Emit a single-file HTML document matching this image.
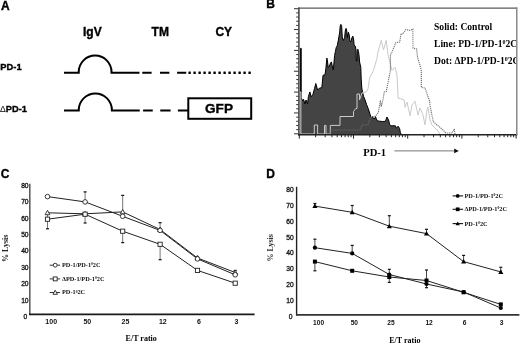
<!DOCTYPE html>
<html><head><meta charset="utf-8"><title>Figure</title>
<style>
html,body{margin:0;padding:0;background:#fff;}
body{width:520px;height:344px;overflow:hidden;font-family:"Liberation Sans",sans-serif;}
svg{display:block;will-change:transform;}
</style></head>
<body>
<svg width="520" height="344" viewBox="0 0 520 344">
<defs><clipPath id="clipB"><rect x="400" y="30" width="116.2" height="40"/></clipPath></defs>
<rect width="520" height="344" fill="#fff"/>
<text x="1.0" y="9.6" font-family='"Liberation Sans", sans-serif' font-size="12" font-weight="bold" text-anchor="start" fill="#000"  stroke="#000" stroke-width="0.35">A</text>
<text x="83.0" y="35.6" font-family='"Liberation Sans", sans-serif' font-size="12" font-weight="bold" text-anchor="start" fill="#000"  stroke="#000" stroke-width="0.35">IgV</text>
<text x="151.6" y="36.2" font-family='"Liberation Sans", sans-serif' font-size="12" font-weight="bold" text-anchor="start" fill="#000"  stroke="#000" stroke-width="0.35">TM</text>
<text x="215.4" y="36.2" font-family='"Liberation Sans", sans-serif' font-size="12" font-weight="bold" text-anchor="start" fill="#000"  stroke="#000" stroke-width="0.35">CY</text>
<text x="0.3" y="70.2" font-family='"Liberation Sans", sans-serif' font-size="9.6" font-weight="bold" text-anchor="start" fill="#000" textLength="21.3" lengthAdjust="spacingAndGlyphs" stroke="#000" stroke-width="0.35">PD-1</text>
<text x="0" y="111.9" font-family='"Liberation Sans", sans-serif' font-size="9.7" textLength="27" lengthAdjust="spacingAndGlyphs"><tspan font-weight="normal" font-size="9">&#916;</tspan><tspan font-weight="bold" stroke="#000" stroke-width="0.35">PD-1</tspan></text>
<path d="M64,72.75 H78.75 V71.97 A16.375,16.375 0 0 1 111.5,71.97 V72.75 H139.5" fill="none" stroke="#000" stroke-width="2"/>
<line x1="142.25" y1="72.75" x2="151.6" y2="72.75" stroke="#000" stroke-width="2"/>
<line x1="160" y1="72.75" x2="169.4" y2="72.75" stroke="#000" stroke-width="2"/>
<line x1="177.1" y1="72.75" x2="186.25" y2="72.75" stroke="#000" stroke-width="2"/>
<rect x="188.40" y="71.55" width="2.4" height="2.4" rx="0.5" fill="#000"/>
<rect x="193.40" y="71.55" width="2.4" height="2.4" rx="0.5" fill="#000"/>
<rect x="198.40" y="71.55" width="2.4" height="2.4" rx="0.5" fill="#000"/>
<rect x="203.40" y="71.55" width="2.4" height="2.4" rx="0.5" fill="#000"/>
<rect x="208.40" y="71.55" width="2.4" height="2.4" rx="0.5" fill="#000"/>
<rect x="213.40" y="71.55" width="2.4" height="2.4" rx="0.5" fill="#000"/>
<rect x="218.40" y="71.55" width="2.4" height="2.4" rx="0.5" fill="#000"/>
<rect x="223.40" y="71.55" width="2.4" height="2.4" rx="0.5" fill="#000"/>
<rect x="228.40" y="71.55" width="2.4" height="2.4" rx="0.5" fill="#000"/>
<rect x="233.40" y="71.55" width="2.4" height="2.4" rx="0.5" fill="#000"/>
<rect x="238.40" y="71.55" width="2.4" height="2.4" rx="0.5" fill="#000"/>
<rect x="243.40" y="71.55" width="2.4" height="2.4" rx="0.5" fill="#000"/>
<rect x="248.40" y="71.55" width="2.4" height="2.4" rx="0.5" fill="#000"/>
<path d="M64,110.5 H78.75 V110.08 A16.575,16.575 0 0 1 111.9,110.08 V110.5 H139.75" fill="none" stroke="#000" stroke-width="2"/>
<line x1="143.1" y1="110.5" x2="152.75" y2="110.5" stroke="#000" stroke-width="2"/>
<line x1="160.25" y1="110.5" x2="170.6" y2="110.5" stroke="#000" stroke-width="2"/>
<line x1="177.9" y1="110.5" x2="188" y2="110.5" stroke="#000" stroke-width="2"/>
<rect x="188.3" y="98.3" width="62.9" height="20.5" fill="none" stroke="#000" stroke-width="2"/>
<text x="219.0" y="113.4" font-family='"Liberation Sans", sans-serif' font-size="13.6" font-weight="bold" text-anchor="middle" fill="#000"  stroke="#000" stroke-width="0.35">GFP</text>
<text x="266.2" y="8.4" font-family='"Liberation Sans", sans-serif' font-size="12" font-weight="bold" text-anchor="start" fill="#000"  stroke="#000" stroke-width="0.35">B</text>
<polygon points="300.6,134.5 300.6,48.3 301.2,48.3 301.2,97.7 302.6,100.8 303.5,99.2 304.9,103.8 306.1,100 307.6,103.8 308.4,96.5 309.9,91.9 311.1,96.9 313,94.2 314.5,88.5 315.8,83.5 317.6,90 319.5,88.1 321.8,87.7 322.6,80 323,75.3 325,74.8 325.9,68.3 326.9,58.1 327.6,62 328.2,67.5 329.4,66 330.6,63 331.5,61.9 332.2,66 333.3,70 334.2,60 334.6,55.4 335.4,51.5 336.2,47.7 337.3,45.4 338.4,40 338.9,36.5 339.6,33 340.2,26 340.9,24.4 341.7,26.5 342.3,38 343.3,40.5 344.6,37.5 345.4,30 346.1,28.4 346.8,31 347.3,37.5 347.9,34 348.4,32.2 349.2,35 350,41.5 351,41.5 352,37.5 352.8,36.1 353.6,39 354.1,45.2 355.4,46.2 356,50 356.3,61 357,61 357.3,50.5 357.8,49.2 358.5,51.5 359.1,56 359.6,62 360.8,67.4 361.2,79 361.8,88 362.5,92 363.5,96.2 365.1,100 366.6,104.6 368.2,108.5 369.7,113.1 370.8,116.8 371.6,117.5 372.4,116.5 373.2,118.5 374.8,118.5 375.5,116.5 376.3,119 377.4,120.8 379.7,121.2 382.4,121.5 385.4,121.4 386.9,117 388.5,119.7 389.6,124.3 390.8,125.8 395.4,125.8 396.5,128.2 398.1,126.2 399.6,128.5 400.4,132.8 401.5,134.5" fill="#444" stroke="#000" stroke-width="1" stroke-linejoin="miter"/>
<polyline points="299.9,134.5 299.9,92 300.9,92 300.9,134 314.3,134 314.3,125 317.6,125 317.6,134 324.5,134 324.5,125.4 326,125.4 326,134 330.3,134 330.3,125.4 340,125.4 340,116.5 353.5,116.5 353.5,111.5 355.8,108.5 357,108.5 357,94 359.5,94 359.5,100 362,93 366,92 368,89 369.6,78 373.5,70.4 376.6,59.7 378,52 381.2,40.4 383.5,50 386.2,40.4 388.1,55 392,70.4 395,67.3 397,75 398.1,98.1 401.2,99 404.2,100 405,107.3 407,102 410,115.8 412,105 415,101.2 418,115 420,108 423,115 425,125 427,110 428,107.3 430,120 432,125 435,128 438,131 440,134.5" fill="none" stroke="#cacaca" stroke-width="1"/>
<polyline points="330,134.5 330,130 360,130 362,125 368,125 370,118 376,116 378.5,112 380.4,100 381.2,106.9 383.1,99.2 384.3,92 386.2,91.5 388,82.7 390.4,70.4 390.4,55 392,52 395.8,42.7 399.7,42 401,33.5 402.8,34 405.8,29.6 410.2,30.5 412.8,29.2 413,48.1 416.6,49 417.4,57 419.7,64.3 421.3,70.4 421.3,87.4 425.1,88.1 427.4,95 429.7,101.2 430,105 432,115.8 433.5,122 437,125 439.7,127 443,130 445.8,133 452,133 454.3,128.9 455,134.5" fill="none" stroke="#6a6a6a" stroke-width="1.1" stroke-dasharray="1.1 0.9"/>
<line x1="298" y1="8.1" x2="517.2" y2="8.1" stroke="#5a5a5a" stroke-width="1.4"/>
<line x1="516.7" y1="7.5" x2="516.7" y2="135" stroke="#8a8a8a" stroke-width="1.2"/>
<line x1="298.9" y1="7.5" x2="298.9" y2="135.5" stroke="#555" stroke-width="1.7"/>
<line x1="298" y1="134.8" x2="517.2" y2="134.8" stroke="#222" stroke-width="1.5"/>
<line x1="294" y1="8.70" x2="298.5" y2="8.70" stroke="#333" stroke-width="1"/>
<line x1="296.2" y1="12.87" x2="298.5" y2="12.87" stroke="#333" stroke-width="1"/>
<line x1="296.2" y1="17.04" x2="298.5" y2="17.04" stroke="#333" stroke-width="1"/>
<line x1="296.2" y1="21.21" x2="298.5" y2="21.21" stroke="#333" stroke-width="1"/>
<line x1="296.2" y1="25.38" x2="298.5" y2="25.38" stroke="#333" stroke-width="1"/>
<line x1="294" y1="29.55" x2="298.5" y2="29.55" stroke="#333" stroke-width="1"/>
<line x1="296.2" y1="33.72" x2="298.5" y2="33.72" stroke="#333" stroke-width="1"/>
<line x1="296.2" y1="37.89" x2="298.5" y2="37.89" stroke="#333" stroke-width="1"/>
<line x1="296.2" y1="42.06" x2="298.5" y2="42.06" stroke="#333" stroke-width="1"/>
<line x1="296.2" y1="46.23" x2="298.5" y2="46.23" stroke="#333" stroke-width="1"/>
<line x1="294" y1="50.40" x2="298.5" y2="50.40" stroke="#333" stroke-width="1"/>
<line x1="296.2" y1="54.57" x2="298.5" y2="54.57" stroke="#333" stroke-width="1"/>
<line x1="296.2" y1="58.74" x2="298.5" y2="58.74" stroke="#333" stroke-width="1"/>
<line x1="296.2" y1="62.91" x2="298.5" y2="62.91" stroke="#333" stroke-width="1"/>
<line x1="296.2" y1="67.08" x2="298.5" y2="67.08" stroke="#333" stroke-width="1"/>
<line x1="294" y1="71.25" x2="298.5" y2="71.25" stroke="#333" stroke-width="1"/>
<line x1="296.2" y1="75.42" x2="298.5" y2="75.42" stroke="#333" stroke-width="1"/>
<line x1="296.2" y1="79.59" x2="298.5" y2="79.59" stroke="#333" stroke-width="1"/>
<line x1="296.2" y1="83.76" x2="298.5" y2="83.76" stroke="#333" stroke-width="1"/>
<line x1="296.2" y1="87.93" x2="298.5" y2="87.93" stroke="#333" stroke-width="1"/>
<line x1="294" y1="92.10" x2="298.5" y2="92.10" stroke="#333" stroke-width="1"/>
<line x1="296.2" y1="96.27" x2="298.5" y2="96.27" stroke="#333" stroke-width="1"/>
<line x1="296.2" y1="100.44" x2="298.5" y2="100.44" stroke="#333" stroke-width="1"/>
<line x1="296.2" y1="104.61" x2="298.5" y2="104.61" stroke="#333" stroke-width="1"/>
<line x1="296.2" y1="108.78" x2="298.5" y2="108.78" stroke="#333" stroke-width="1"/>
<line x1="294" y1="112.95" x2="298.5" y2="112.95" stroke="#333" stroke-width="1"/>
<line x1="296.2" y1="117.12" x2="298.5" y2="117.12" stroke="#333" stroke-width="1"/>
<line x1="296.2" y1="121.29" x2="298.5" y2="121.29" stroke="#333" stroke-width="1"/>
<line x1="296.2" y1="125.46" x2="298.5" y2="125.46" stroke="#333" stroke-width="1"/>
<line x1="296.2" y1="129.63" x2="298.5" y2="129.63" stroke="#333" stroke-width="1"/>
<line x1="294" y1="133.80" x2="298.5" y2="133.80" stroke="#333" stroke-width="1"/>
<line x1="299.30" y1="134.8" x2="299.30" y2="138.6" stroke="#222" stroke-width="1"/>
<line x1="315.62" y1="134.8" x2="315.62" y2="137.2" stroke="#222" stroke-width="1"/>
<line x1="325.16" y1="134.8" x2="325.16" y2="137.2" stroke="#222" stroke-width="1"/>
<line x1="331.93" y1="134.8" x2="331.93" y2="137.2" stroke="#222" stroke-width="1"/>
<line x1="337.18" y1="134.8" x2="337.18" y2="137.2" stroke="#222" stroke-width="1"/>
<line x1="341.48" y1="134.8" x2="341.48" y2="137.2" stroke="#222" stroke-width="1"/>
<line x1="345.10" y1="134.8" x2="345.10" y2="137.2" stroke="#222" stroke-width="1"/>
<line x1="348.25" y1="134.8" x2="348.25" y2="137.2" stroke="#222" stroke-width="1"/>
<line x1="351.02" y1="134.8" x2="351.02" y2="137.2" stroke="#222" stroke-width="1"/>
<line x1="353.50" y1="134.8" x2="353.50" y2="138.6" stroke="#222" stroke-width="1"/>
<line x1="369.82" y1="134.8" x2="369.82" y2="137.2" stroke="#222" stroke-width="1"/>
<line x1="379.36" y1="134.8" x2="379.36" y2="137.2" stroke="#222" stroke-width="1"/>
<line x1="386.13" y1="134.8" x2="386.13" y2="137.2" stroke="#222" stroke-width="1"/>
<line x1="391.38" y1="134.8" x2="391.38" y2="137.2" stroke="#222" stroke-width="1"/>
<line x1="395.68" y1="134.8" x2="395.68" y2="137.2" stroke="#222" stroke-width="1"/>
<line x1="399.30" y1="134.8" x2="399.30" y2="137.2" stroke="#222" stroke-width="1"/>
<line x1="402.45" y1="134.8" x2="402.45" y2="137.2" stroke="#222" stroke-width="1"/>
<line x1="405.22" y1="134.8" x2="405.22" y2="137.2" stroke="#222" stroke-width="1"/>
<line x1="407.70" y1="134.8" x2="407.70" y2="138.6" stroke="#222" stroke-width="1"/>
<line x1="424.02" y1="134.8" x2="424.02" y2="137.2" stroke="#222" stroke-width="1"/>
<line x1="433.56" y1="134.8" x2="433.56" y2="137.2" stroke="#222" stroke-width="1"/>
<line x1="440.33" y1="134.8" x2="440.33" y2="137.2" stroke="#222" stroke-width="1"/>
<line x1="445.58" y1="134.8" x2="445.58" y2="137.2" stroke="#222" stroke-width="1"/>
<line x1="449.88" y1="134.8" x2="449.88" y2="137.2" stroke="#222" stroke-width="1"/>
<line x1="453.50" y1="134.8" x2="453.50" y2="137.2" stroke="#222" stroke-width="1"/>
<line x1="456.65" y1="134.8" x2="456.65" y2="137.2" stroke="#222" stroke-width="1"/>
<line x1="459.42" y1="134.8" x2="459.42" y2="137.2" stroke="#222" stroke-width="1"/>
<line x1="461.90" y1="134.8" x2="461.90" y2="138.6" stroke="#222" stroke-width="1"/>
<line x1="478.22" y1="134.8" x2="478.22" y2="137.2" stroke="#222" stroke-width="1"/>
<line x1="487.76" y1="134.8" x2="487.76" y2="137.2" stroke="#222" stroke-width="1"/>
<line x1="494.53" y1="134.8" x2="494.53" y2="137.2" stroke="#222" stroke-width="1"/>
<line x1="499.78" y1="134.8" x2="499.78" y2="137.2" stroke="#222" stroke-width="1"/>
<line x1="504.08" y1="134.8" x2="504.08" y2="137.2" stroke="#222" stroke-width="1"/>
<line x1="507.70" y1="134.8" x2="507.70" y2="137.2" stroke="#222" stroke-width="1"/>
<line x1="510.85" y1="134.8" x2="510.85" y2="137.2" stroke="#222" stroke-width="1"/>
<line x1="513.62" y1="134.8" x2="513.62" y2="137.2" stroke="#222" stroke-width="1"/>
<line x1="516.10" y1="134.8" x2="516.10" y2="138.6" stroke="#222" stroke-width="1"/>
<text x="434.0" y="30.2" font-family='"Liberation Serif", serif' font-size="9.6" font-weight="bold" text-anchor="start" fill="#000" >Solid: Control</text>
<g clip-path="url(#clipB)">
<text x="434.0" y="47.2" font-family='"Liberation Serif", serif' font-size="9.6" font-weight="bold" text-anchor="start" fill="#000" >Line: PD-1/PD-1<tspan font-size="6" dy="-3.5">0</tspan><tspan dy="3.5">2C</tspan></text>
<text x="434.0" y="64.0" font-family='"Liberation Serif", serif' font-size="9.6" font-weight="bold" text-anchor="start" fill="#000" >Dot: &#916;PD-1/PD-1<tspan font-size="6" dy="-3.5">0</tspan><tspan dy="3.5">2C</tspan></text>
</g>
<line x1="516.7" y1="7.5" x2="516.7" y2="135" stroke="#8a8a8a" stroke-width="1.2"/>
<text x="363.2" y="156.2" font-family='"Liberation Serif", serif' font-size="10.6" font-weight="bold" text-anchor="start" fill="#000" >PD-1</text>
<line x1="394.4" y1="150.9" x2="455" y2="150.9" stroke="#777" stroke-width="1"/>
<polygon points="454.2,148.6 458.8,150.9 454.2,153.2" fill="#111"/>
<text x="0.8" y="177.5" font-family='"Liberation Sans", sans-serif' font-size="12" font-weight="bold" text-anchor="start" fill="#000"  stroke="#000" stroke-width="0.35">C</text>
<text x="27.3" y="319.0" font-family='"Liberation Sans", sans-serif' font-size="6.7" font-weight="normal" text-anchor="end" fill="#111" stroke="#111" stroke-width="0.3">0</text>
<text x="28.6" y="302.6" font-family='"Liberation Sans", sans-serif' font-size="6.7" font-weight="normal" text-anchor="end" fill="#111" stroke="#111" stroke-width="0.3">10</text>
<text x="28.6" y="286.2" font-family='"Liberation Sans", sans-serif' font-size="6.7" font-weight="normal" text-anchor="end" fill="#111" stroke="#111" stroke-width="0.3">20</text>
<text x="28.6" y="269.8" font-family='"Liberation Sans", sans-serif' font-size="6.7" font-weight="normal" text-anchor="end" fill="#111" stroke="#111" stroke-width="0.3">30</text>
<text x="28.6" y="253.40000000000003" font-family='"Liberation Sans", sans-serif' font-size="6.7" font-weight="normal" text-anchor="end" fill="#111" stroke="#111" stroke-width="0.3">40</text>
<text x="28.6" y="237.00000000000003" font-family='"Liberation Sans", sans-serif' font-size="6.7" font-weight="normal" text-anchor="end" fill="#111" stroke="#111" stroke-width="0.3">50</text>
<text x="28.6" y="220.60000000000005" font-family='"Liberation Sans", sans-serif' font-size="6.7" font-weight="normal" text-anchor="end" fill="#111" stroke="#111" stroke-width="0.3">60</text>
<text x="28.6" y="204.20000000000002" font-family='"Liberation Sans", sans-serif' font-size="6.7" font-weight="normal" text-anchor="end" fill="#111" stroke="#111" stroke-width="0.3">70</text>
<text x="28.6" y="187.80000000000004" font-family='"Liberation Sans", sans-serif' font-size="6.7" font-weight="normal" text-anchor="end" fill="#111" stroke="#111" stroke-width="0.3">80</text>
<line x1="29.8" y1="183.8" x2="29.8" y2="315" stroke="#555" stroke-width="1.5"/>
<line x1="29" y1="314.3" x2="254.6" y2="314.3" stroke="#1a1a1a" stroke-width="1.8"/>
<text x="51.2" y="324.4" font-family='"Liberation Sans", sans-serif' font-size="7" font-weight="bold" text-anchor="middle" fill="#111" >100</text>
<text x="87.3" y="324.4" font-family='"Liberation Sans", sans-serif' font-size="7" font-weight="bold" text-anchor="middle" fill="#111" >50</text>
<text x="125.4" y="324.4" font-family='"Liberation Sans", sans-serif' font-size="7" font-weight="bold" text-anchor="middle" fill="#111" >25</text>
<text x="162.8" y="324.4" font-family='"Liberation Sans", sans-serif' font-size="7" font-weight="bold" text-anchor="middle" fill="#111" >12</text>
<text x="199" y="324.4" font-family='"Liberation Sans", sans-serif' font-size="7" font-weight="bold" text-anchor="middle" fill="#111" >6</text>
<text x="236.4" y="324.4" font-family='"Liberation Sans", sans-serif' font-size="7" font-weight="bold" text-anchor="middle" fill="#111" >3</text>
<text x="125.6" y="340.6" font-family='"Liberation Serif", serif' font-size="8" font-weight="bold" text-anchor="start" fill="#000" >E/T ratio</text>
<text x="0" y="0" font-family='"Liberation Serif", serif' font-size="8" font-weight="bold" fill="#222" transform="translate(7.6,262) rotate(-90)">% Lysis</text>
<line x1="47.5" y1="212" x2="47.5" y2="228.8" stroke="#666" stroke-width="0.9"/>
<line x1="46.0" y1="228.8" x2="49.0" y2="228.8" stroke="#111" stroke-width="1.2"/>
<line x1="85.1" y1="201.9" x2="85.1" y2="191.9" stroke="#666" stroke-width="0.9"/>
<line x1="83.6" y1="191.9" x2="86.6" y2="191.9" stroke="#111" stroke-width="1.2"/>
<line x1="85.1" y1="214.1" x2="85.1" y2="223" stroke="#666" stroke-width="0.9"/>
<line x1="83.6" y1="223" x2="86.6" y2="223" stroke="#111" stroke-width="1.2"/>
<line x1="122.7" y1="211.9" x2="122.7" y2="195.4" stroke="#666" stroke-width="0.9"/>
<line x1="121.2" y1="195.4" x2="124.2" y2="195.4" stroke="#111" stroke-width="1.2"/>
<line x1="122.7" y1="231.2" x2="122.7" y2="242.6" stroke="#666" stroke-width="0.9"/>
<line x1="121.2" y1="242.6" x2="124.2" y2="242.6" stroke="#111" stroke-width="1.2"/>
<line x1="160.1" y1="230.4" x2="160.1" y2="222.7" stroke="#666" stroke-width="0.9"/>
<line x1="158.6" y1="222.7" x2="161.6" y2="222.7" stroke="#111" stroke-width="1.2"/>
<line x1="160.1" y1="244.3" x2="160.1" y2="259.7" stroke="#666" stroke-width="0.9"/>
<line x1="158.6" y1="259.7" x2="161.6" y2="259.7" stroke="#111" stroke-width="1.2"/>
<line x1="197.5" y1="258.9" x2="197.5" y2="256.5" stroke="#666" stroke-width="0.9"/>
<line x1="196.0" y1="256.5" x2="199.0" y2="256.5" stroke="#111" stroke-width="1.2"/>
<line x1="235.2" y1="274.8" x2="235.2" y2="270.4" stroke="#666" stroke-width="0.9"/>
<line x1="233.7" y1="270.4" x2="236.7" y2="270.4" stroke="#111" stroke-width="1.2"/>
<polyline points="47.5,196.6 85.1,201.9 122.7,216.3 160.1,230.4 197.5,258.9 235.2,274.8" fill="none" stroke="#222" stroke-width="1"/>
<polyline points="47.5,219.2 85.1,214.2 122.7,231.2 160.1,244.3 197.5,270.4 235.2,283.2" fill="none" stroke="#222" stroke-width="1"/>
<polyline points="47.5,212.8 85.1,213.8 122.7,211.9 160.1,229.5 197.5,258.0 235.2,272.5" fill="none" stroke="#222" stroke-width="1"/>
<polygon points="47.5,210.38500000000002 49.915,214.732 45.085,214.732" fill="#fff" stroke="#222" stroke-width="0.9"/>
<polygon points="85.1,211.38500000000002 87.515,215.732 82.68499999999999,215.732" fill="#fff" stroke="#222" stroke-width="0.9"/>
<polygon points="122.7,209.485 125.11500000000001,213.832 120.285,213.832" fill="#fff" stroke="#222" stroke-width="0.9"/>
<polygon points="160.1,227.085 162.515,231.432 157.685,231.432" fill="#fff" stroke="#222" stroke-width="0.9"/>
<polygon points="197.5,255.585 199.915,259.932 195.085,259.932" fill="#fff" stroke="#222" stroke-width="0.9"/>
<polygon points="235.2,270.085 237.61499999999998,274.432 232.785,274.432" fill="#fff" stroke="#222" stroke-width="0.9"/>
<rect x="45.4" y="217.1" width="4.2" height="4.2" fill="#fff" stroke="#222" stroke-width="0.9"/>
<rect x="83.0" y="212.1" width="4.2" height="4.2" fill="#fff" stroke="#222" stroke-width="0.9"/>
<rect x="120.60000000000001" y="229.1" width="4.2" height="4.2" fill="#fff" stroke="#222" stroke-width="0.9"/>
<rect x="158.0" y="242.20000000000002" width="4.2" height="4.2" fill="#fff" stroke="#222" stroke-width="0.9"/>
<rect x="195.4" y="268.29999999999995" width="4.2" height="4.2" fill="#fff" stroke="#222" stroke-width="0.9"/>
<rect x="233.1" y="281.09999999999997" width="4.2" height="4.2" fill="#fff" stroke="#222" stroke-width="0.9"/>
<circle cx="47.5" cy="196.6" r="2.3" fill="#fff" stroke="#222" stroke-width="0.9"/>
<circle cx="85.1" cy="201.9" r="2.3" fill="#fff" stroke="#222" stroke-width="0.9"/>
<circle cx="122.7" cy="216.3" r="2.3" fill="#fff" stroke="#222" stroke-width="0.9"/>
<circle cx="160.1" cy="230.4" r="2.3" fill="#fff" stroke="#222" stroke-width="0.9"/>
<circle cx="197.5" cy="258.9" r="2.3" fill="#fff" stroke="#222" stroke-width="0.9"/>
<circle cx="235.2" cy="274.8" r="2.3" fill="#fff" stroke="#222" stroke-width="0.9"/>
<line x1="49.7" y1="265.2" x2="60.1" y2="265.2" stroke="#333" stroke-width="1"/>
<circle cx="55.2" cy="265.2" r="1.95" fill="#fff" stroke="#222" stroke-width="0.9"/>
<text x="62.0" y="267.09999999999997" font-family='"Liberation Serif", serif' font-size="6.3" font-weight="bold" text-anchor="start" fill="#111" >PD-1/PD-1<tspan font-size="3.6" dy="-1.8">0</tspan><tspan dy="1.8">2C</tspan></text>
<line x1="49.7" y1="278.9" x2="60.1" y2="278.9" stroke="#333" stroke-width="1"/>
<rect x="53.25" y="276.95" width="3.9" height="3.9" fill="#fff" stroke="#222" stroke-width="0.9"/>
<text x="62.0" y="280.79999999999995" font-family='"Liberation Serif", serif' font-size="6.3" font-weight="bold" text-anchor="start" fill="#111" >&#916;PD-1/PD-1<tspan font-size="3.6" dy="-1.8">0</tspan><tspan dy="1.8">2C</tspan></text>
<line x1="49.7" y1="292.5" x2="60.1" y2="292.5" stroke="#333" stroke-width="1"/>
<polygon points="55.2,290.2575 57.4425,294.294 52.9575,294.294" fill="#fff" stroke="#222" stroke-width="0.9"/>
<text x="62.0" y="294.4" font-family='"Liberation Serif", serif' font-size="6.3" font-weight="bold" text-anchor="start" fill="#111" >PD-1<tspan font-size="3.6" dy="-1.8">0</tspan><tspan dy="1.8">2C</tspan></text>
<text x="266.2" y="177.75" font-family='"Liberation Sans", sans-serif' font-size="12" font-weight="bold" text-anchor="start" fill="#000"  stroke="#000" stroke-width="0.35">D</text>
<text x="292.6" y="319.4" font-family='"Liberation Sans", sans-serif' font-size="6.7" font-weight="normal" text-anchor="end" fill="#111" stroke="#111" stroke-width="0.3">0</text>
<text x="293.8" y="303.41999999999996" font-family='"Liberation Sans", sans-serif' font-size="6.7" font-weight="normal" text-anchor="end" fill="#111" stroke="#111" stroke-width="0.3">10</text>
<text x="293.8" y="287.44" font-family='"Liberation Sans", sans-serif' font-size="6.7" font-weight="normal" text-anchor="end" fill="#111" stroke="#111" stroke-width="0.3">20</text>
<text x="293.8" y="271.46" font-family='"Liberation Sans", sans-serif' font-size="6.7" font-weight="normal" text-anchor="end" fill="#111" stroke="#111" stroke-width="0.3">30</text>
<text x="293.8" y="255.48" font-family='"Liberation Sans", sans-serif' font-size="6.7" font-weight="normal" text-anchor="end" fill="#111" stroke="#111" stroke-width="0.3">40</text>
<text x="293.8" y="239.5" font-family='"Liberation Sans", sans-serif' font-size="6.7" font-weight="normal" text-anchor="end" fill="#111" stroke="#111" stroke-width="0.3">50</text>
<text x="293.8" y="223.52" font-family='"Liberation Sans", sans-serif' font-size="6.7" font-weight="normal" text-anchor="end" fill="#111" stroke="#111" stroke-width="0.3">60</text>
<text x="293.8" y="207.54" font-family='"Liberation Sans", sans-serif' font-size="6.7" font-weight="normal" text-anchor="end" fill="#111" stroke="#111" stroke-width="0.3">70</text>
<text x="293.8" y="191.56" font-family='"Liberation Sans", sans-serif' font-size="6.7" font-weight="normal" text-anchor="end" fill="#111" stroke="#111" stroke-width="0.3">80</text>
<line x1="296.6" y1="186.8" x2="296.6" y2="315.5" stroke="#222" stroke-width="1.4"/>
<line x1="296" y1="314.8" x2="519.4" y2="314.8" stroke="#333" stroke-width="1.8"/>
<text x="318.6" y="324.7" font-family='"Liberation Sans", sans-serif' font-size="6.6" font-weight="bold" text-anchor="middle" fill="#111" >100</text>
<text x="354.3" y="324.7" font-family='"Liberation Sans", sans-serif' font-size="6.6" font-weight="bold" text-anchor="middle" fill="#111" >50</text>
<text x="390.9" y="324.7" font-family='"Liberation Sans", sans-serif' font-size="6.6" font-weight="bold" text-anchor="middle" fill="#111" >25</text>
<text x="429.1" y="324.7" font-family='"Liberation Sans", sans-serif' font-size="6.6" font-weight="bold" text-anchor="middle" fill="#111" >12</text>
<text x="464.5" y="324.7" font-family='"Liberation Sans", sans-serif' font-size="6.6" font-weight="bold" text-anchor="middle" fill="#111" >6</text>
<text x="501.5" y="324.7" font-family='"Liberation Sans", sans-serif' font-size="6.6" font-weight="bold" text-anchor="middle" fill="#111" >3</text>
<text x="389.2" y="342.6" font-family='"Liberation Serif", serif' font-size="8" font-weight="bold" text-anchor="start" fill="#000" >E/T ratio</text>
<text x="0" y="0" font-family='"Liberation Serif", serif' font-size="8" font-weight="bold" fill="#333" transform="translate(272.6,261.4) rotate(-90)">% Lysis</text>
<line x1="314.9" y1="206.1" x2="314.9" y2="203.5" stroke="#333" stroke-width="0.9"/>
<line x1="313.4" y1="203.5" x2="316.4" y2="203.5" stroke="#111" stroke-width="1.2"/>
<line x1="352.2" y1="212.3" x2="352.2" y2="205.5" stroke="#333" stroke-width="0.9"/>
<line x1="350.7" y1="205.5" x2="353.7" y2="205.5" stroke="#111" stroke-width="1.2"/>
<line x1="389.3" y1="226.2" x2="389.3" y2="215.7" stroke="#333" stroke-width="0.9"/>
<line x1="387.8" y1="215.7" x2="390.8" y2="215.7" stroke="#111" stroke-width="1.2"/>
<line x1="426.5" y1="233.6" x2="426.5" y2="229.3" stroke="#333" stroke-width="0.9"/>
<line x1="425.0" y1="229.3" x2="428.0" y2="229.3" stroke="#111" stroke-width="1.2"/>
<line x1="463.6" y1="261.6" x2="463.6" y2="255.4" stroke="#333" stroke-width="0.9"/>
<line x1="462.1" y1="255.4" x2="465.1" y2="255.4" stroke="#111" stroke-width="1.2"/>
<line x1="500.8" y1="271.9" x2="500.8" y2="267.3" stroke="#333" stroke-width="0.9"/>
<line x1="499.3" y1="267.3" x2="502.3" y2="267.3" stroke="#111" stroke-width="1.2"/>
<line x1="314.9" y1="247.7" x2="314.9" y2="239.2" stroke="#333" stroke-width="0.9"/>
<line x1="313.4" y1="239.2" x2="316.4" y2="239.2" stroke="#111" stroke-width="1.2"/>
<line x1="352.2" y1="253.4" x2="352.2" y2="245.4" stroke="#333" stroke-width="0.9"/>
<line x1="350.7" y1="245.4" x2="353.7" y2="245.4" stroke="#111" stroke-width="1.2"/>
<line x1="389.3" y1="274.5" x2="389.3" y2="269.3" stroke="#333" stroke-width="0.9"/>
<line x1="387.8" y1="269.3" x2="390.8" y2="269.3" stroke="#111" stroke-width="1.2"/>
<line x1="389.3" y1="277" x2="389.3" y2="282.4" stroke="#333" stroke-width="0.9"/>
<line x1="387.8" y1="282.4" x2="390.8" y2="282.4" stroke="#111" stroke-width="1.2"/>
<line x1="426.5" y1="282" x2="426.5" y2="270" stroke="#333" stroke-width="0.9"/>
<line x1="425.0" y1="270" x2="428.0" y2="270" stroke="#111" stroke-width="1.2"/>
<line x1="426.5" y1="282" x2="426.5" y2="287.7" stroke="#333" stroke-width="0.9"/>
<line x1="425.0" y1="287.7" x2="428.0" y2="287.7" stroke="#111" stroke-width="1.2"/>
<line x1="314.9" y1="261.6" x2="314.9" y2="270.8" stroke="#333" stroke-width="0.9"/>
<line x1="313.4" y1="270.8" x2="316.4" y2="270.8" stroke="#111" stroke-width="1.2"/>
<polyline points="314.9,247.7 352.2,253.4 389.3,274.5 426.5,284.0 463.6,292.0 500.8,308.0" fill="none" stroke="#222" stroke-width="1"/>
<polyline points="314.9,261.6 352.2,270.8 389.3,277.0 426.5,280.5 463.6,292.3 500.8,304.4" fill="none" stroke="#222" stroke-width="1"/>
<polyline points="314.9,206.1 352.2,212.3 389.3,226.2 426.5,233.6 463.6,261.6 500.8,271.9" fill="none" stroke="#222" stroke-width="1"/>
<polygon points="314.9,203.57 317.42999999999995,208.124 312.37,208.124" fill="#000"/>
<polygon points="352.2,209.77 354.72999999999996,214.324 349.67,214.324" fill="#000"/>
<polygon points="389.3,223.67 391.83,228.224 386.77000000000004,228.224" fill="#000"/>
<polygon points="426.5,231.07 429.03,235.624 423.97,235.624" fill="#000"/>
<polygon points="463.6,259.07000000000005 466.13,263.624 461.07000000000005,263.624" fill="#000"/>
<polygon points="500.8,269.37 503.33,273.924 498.27000000000004,273.924" fill="#000"/>
<rect x="312.9" y="259.6" width="4.0" height="4.0" fill="#000"/>
<rect x="350.2" y="268.8" width="4.0" height="4.0" fill="#000"/>
<rect x="387.3" y="275.0" width="4.0" height="4.0" fill="#000"/>
<rect x="424.5" y="278.5" width="4.0" height="4.0" fill="#000"/>
<rect x="461.6" y="290.3" width="4.0" height="4.0" fill="#000"/>
<rect x="498.8" y="302.4" width="4.0" height="4.0" fill="#000"/>
<circle cx="314.9" cy="247.7" r="2.1" fill="#000"/>
<circle cx="352.2" cy="253.4" r="2.1" fill="#000"/>
<circle cx="389.3" cy="274.5" r="2.1" fill="#000"/>
<circle cx="426.5" cy="284.0" r="2.1" fill="#000"/>
<circle cx="463.6" cy="292.0" r="2.1" fill="#000"/>
<circle cx="500.8" cy="308.0" r="2.1" fill="#000"/>
<line x1="452.6" y1="195.9" x2="463.1" y2="195.9" stroke="#111" stroke-width="1.1"/>
<circle cx="457.7" cy="195.9" r="1.85" fill="#000"/>
<text x="464.5" y="197.8" font-family='"Liberation Serif", serif' font-size="6.3" font-weight="bold" text-anchor="start" fill="#111" >PD-1/PD-1<tspan font-size="3.6" dy="-1.8">0</tspan><tspan dy="1.8">2C</tspan></text>
<line x1="452.6" y1="209.3" x2="463.1" y2="209.3" stroke="#111" stroke-width="1.1"/>
<rect x="455.84999999999997" y="207.45000000000002" width="3.7" height="3.7" fill="#000"/>
<text x="464.5" y="211.20000000000002" font-family='"Liberation Serif", serif' font-size="6.3" font-weight="bold" text-anchor="start" fill="#111" >&#916;PD-1/PD-1<tspan font-size="3.6" dy="-1.8">0</tspan><tspan dy="1.8">2C</tspan></text>
<line x1="452.6" y1="223.6" x2="463.1" y2="223.6" stroke="#111" stroke-width="1.1"/>
<polygon points="457.7,221.4725 459.8275,225.302 455.5725,225.302" fill="#000"/>
<text x="464.5" y="225.5" font-family='"Liberation Serif", serif' font-size="6.3" font-weight="bold" text-anchor="start" fill="#111" >PD-1<tspan font-size="3.6" dy="-1.8">0</tspan><tspan dy="1.8">2C</tspan></text>
</svg>
</body></html>
